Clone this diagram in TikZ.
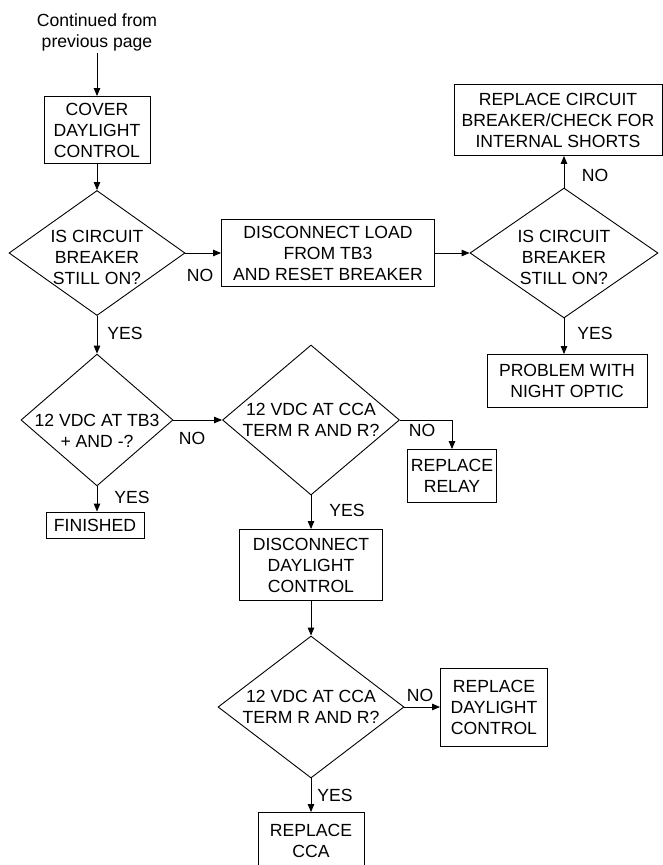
\documentclass[tikz,border=0pt]{standalone}
\usepackage{fontspec}
\setmainfont{Liberation Sans}
\usetikzlibrary{arrows.meta,shapes.geometric}

\begin{document}
\begin{tikzpicture}[
  x=1pt,y=-1pt,
  >={Triangle[length=8pt,width=6.5pt]},
  every node/.style={font=\fontsize{17.6}{21}\selectfont},
  box/.style={draw,line width=0.9pt,align=center,inner sep=0pt},
  decision/.style={diamond,draw,line width=0.9pt,align=center,inner xsep=-16pt,inner ysep=-8pt},
  flow/.style={->,line width=0.9pt},
  answer/.style={inner sep=0pt}
]
  \useasboundingbox (0,0) rectangle (663,865);

  % main column
  \node[align=center,inner sep=2pt] (start) at (97,32) {Continued from\\previous page};
  \node[box,minimum width=106pt,minimum height=67pt] (cover) at (97,130) {COVER\\DAYLIGHT\\CONTROL};
  \node[decision,minimum width=176pt,minimum height=125pt,text height=62pt,text depth=0pt] (brk1) at (97,253) {IS CIRCUIT\\BREAKER\\STILL ON?};
  \node[decision,minimum width=152pt,minimum height=124pt,text height=55pt,text depth=0pt] (tb3) at (97,420) {12 VDC AT TB3\\+ AND -?};
  \node[box,minimum width=98pt,minimum height=26pt] (done) at (95,525) {FINISHED};

  % breaker branch
  \node[box,minimum width=213pt,minimum height=67pt] (unload) at (328,253) {DISCONNECT LOAD\\FROM TB3\\AND RESET BREAKER};
  \node[decision,minimum width=188pt,minimum height=130pt,text height=62pt,text depth=0pt] (brk2) at (564,253) {IS CIRCUIT\\BREAKER\\STILL ON?};
  \node[box,minimum width=208pt,minimum height=71pt] (newbrk) at (558,120) {REPLACE CIRCUIT\\BREAKER/CHECK FOR\\INTERNAL SHORTS};
  \node[box,minimum width=160pt,minimum height=53pt] (optic) at (567,381) {PROBLEM WITH\\NIGHT OPTIC};

  % CCA branch
  \node[decision,minimum width=177pt,minimum height=150pt] (cca1) at (311,420) {12 VDC AT CCA\\TERM R AND R?};
  \node[box,minimum width=89pt,minimum height=53pt] (relay) at (452,476) {REPLACE\\RELAY};
  \node[box,minimum width=143pt,minimum height=71pt] (unplug) at (311,565) {DISCONNECT\\DAYLIGHT\\CONTROL};
  \node[decision,minimum width=186pt,minimum height=142pt] (cca2) at (311,707) {12 VDC AT CCA\\TERM R AND R?};
  \node[box,minimum width=107pt,minimum height=78pt] (newdc) at (494,707) {REPLACE\\DAYLIGHT\\CONTROL};
  \node[box,minimum width=106pt,minimum height=57pt] (newcca) at (311,841) {REPLACE\\CCA};

  % answers
  \node[answer] (no1) at (200,275) {NO};
  \node[answer] (yes1) at (125,333) {YES};
  \node[answer] (no2) at (595,175) {NO};
  \node[answer] (yes2) at (595,333) {YES};
  \node[answer] (no3) at (192,438) {NO};
  \node[answer] (yes3) at (132,497) {YES};
  \node[answer] (no4) at (422,430) {NO};
  \node[answer] (yes4) at (347,510) {YES};
  \node[answer] (no5) at (420,695) {NO};
  \node[answer] (yes5) at (335,795) {YES};

  \draw[flow] (start) -- (cover);
  \draw[flow] (cover) -- (brk1);
  \draw[flow] (brk1) -- (unload);
  \draw[flow] (unload) -- (brk2);
  \draw[flow] (brk2) -- (brk2 |- newbrk.south);
  \draw[flow] (brk2) -- (brk2 |- optic.north);
  \draw[flow] (brk1) -- (tb3);
  \draw[flow] (tb3) -- (tb3 |- done.north);
  \draw[flow] (tb3) -- (cca1);
  \draw[flow] (cca1.east) -| (relay);
  \draw[flow] (cca1) -- (unplug);
  \draw[flow] (unplug) -- (cca2);
  \draw[flow] (cca2) -- (newdc);
  \draw[flow] (cca2) -- (newcca);
\end{tikzpicture}
\end{document}
